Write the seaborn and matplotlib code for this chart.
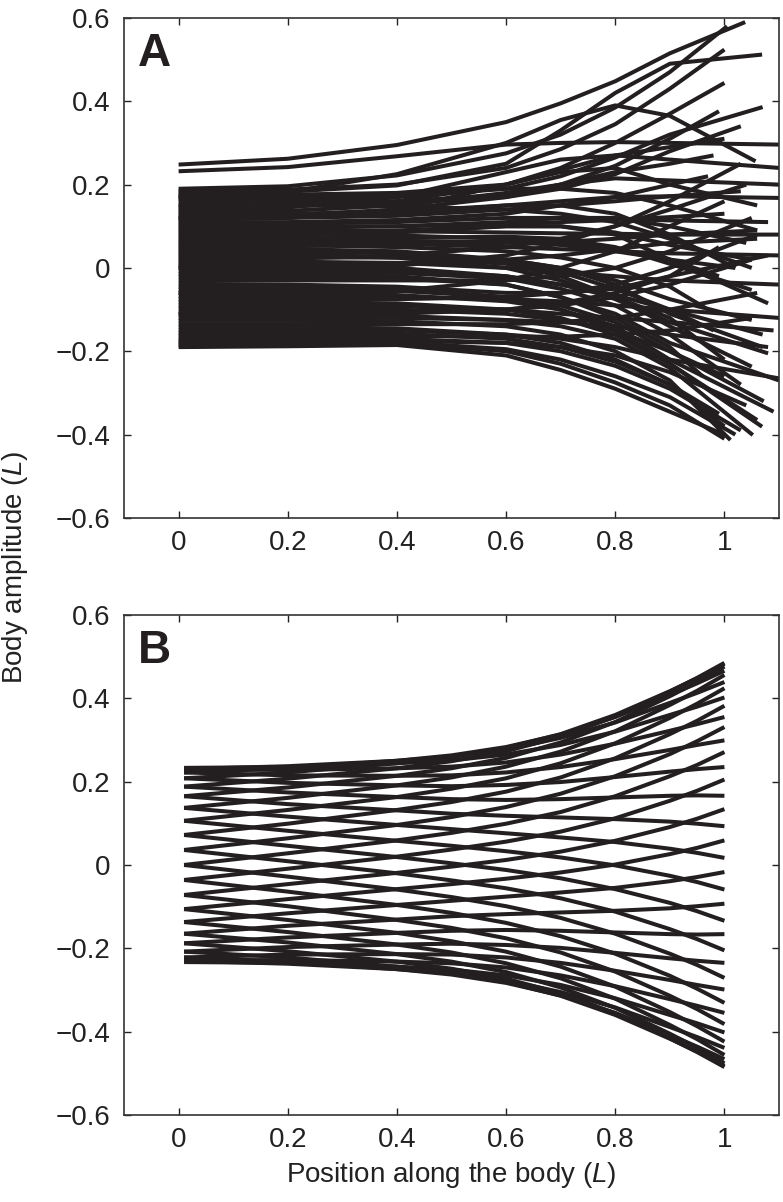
import matplotlib
matplotlib.use("Agg")
import matplotlib.pyplot as plt
import seaborn as sns
import pandas as pd

# ---- panel A: measured midlines, stations along the body + tail tip ----
pos_a = [0, 0.2, 0.4, 0.6, 0.7, 0.8, 0.9]
tail_pos_a = [1.038, 1.10, 1.005, 1.00, 1.069, 1.00, 1.057, 1.07, 0.99, 1.03,
              1.00, 1.10, 1.10, 1.10, 0.98, 1.03, 1.06, 0.97, 1.08, 1.00,
              1.04, 1.10, 1.05, 0.99, 1.08, 1.05, 1.02, 1.10, 0.97, 1.06,
              1.05, 1.07, 1.08, 1.05, 1.07, 1.04, 1.10, 1.06, 1.00, 0.98,
              1.03, 1.10, 0.96, 1.05, 1.08, 1.072, 1.09, 1.06, 1.10, 1.06,
              1.069, 1.09, 1.00, 1.05, 1.052, 1.08, 1.011, 1.06, 1.00, 1.10,
              0.99, 1.05, 1.03, 1.04, 1.02, 1.00, 1.00, 1.03, 1.00, 1.05,
              1.02, 0.99, 1.06]
amp_a = [
    [0.248, 0.262, 0.295, 0.350, 0.395, 0.448, 0.515, 0.590],
    [0.232, 0.242, 0.268, 0.296, 0.300, 0.302, 0.300, 0.296],
    [0.190, 0.196, 0.222, 0.275, 0.320, 0.385, 0.470, 0.580],
    [0.185, 0.188, 0.200, 0.240, 0.285, 0.345, 0.430, 0.524],
    [0.180, 0.183, 0.198, 0.250, 0.330, 0.420, 0.490, 0.512],
    [0.175, 0.176, 0.180, 0.200, 0.240, 0.300, 0.370, 0.444],
    [0.170, 0.182, 0.225, 0.300, 0.355, 0.390, 0.365, 0.256],
    [0.165, 0.165, 0.170, 0.190, 0.220, 0.265, 0.320, 0.386],
    [0.160, 0.158, 0.160, 0.175, 0.200, 0.245, 0.310, 0.376],
    [0.152, 0.150, 0.155, 0.170, 0.190, 0.225, 0.280, 0.340],
    [0.145, 0.148, 0.160, 0.200, 0.235, 0.270, 0.290, 0.310],
    [0.140, 0.145, 0.170, 0.230, 0.260, 0.270, 0.260, 0.240],
    [0.135, 0.137, 0.150, 0.180, 0.200, 0.215, 0.210, 0.200],
    [0.130, 0.130, 0.135, 0.150, 0.160, 0.170, 0.172, 0.168],
    [0.125, 0.127, 0.140, 0.170, 0.200, 0.230, 0.250, 0.270],
    [0.120, 0.120, 0.125, 0.140, 0.150, 0.160, 0.172, 0.184],
    [0.115, 0.120, 0.140, 0.200, 0.230, 0.240, 0.200, 0.150],
    [0.110, 0.110, 0.115, 0.130, 0.150, 0.170, 0.200, 0.220],
    [0.105, 0.106, 0.110, 0.120, 0.120, 0.118, 0.114, 0.110],
    [0.100, 0.100, 0.100, 0.105, 0.110, 0.115, 0.122, 0.130],
    [0.095, 0.096, 0.100, 0.110, 0.120, 0.120, 0.100, 0.060],
    [0.090, 0.090, 0.088, 0.085, 0.083, 0.082, 0.080, 0.080],
    [0.085, 0.086, 0.090, 0.100, 0.100, 0.085, 0.055, 0.020],
    [0.080, 0.080, 0.078, 0.070, 0.060, 0.045, 0.020, -0.020],
    [0.075, 0.077, 0.085, 0.100, 0.100, 0.080, 0.020, -0.085],
    [0.070, 0.070, 0.072, 0.075, 0.070, 0.050, 0.010, -0.053],
    [0.065, 0.065, 0.065, 0.062, 0.055, 0.040, 0.020, 0.000],
    [0.060, 0.060, 0.058, 0.050, 0.045, 0.040, 0.035, 0.030],
    [0.055, 0.055, 0.050, 0.040, 0.025, 0.000, -0.045, -0.100],
    [0.050, 0.052, 0.056, 0.060, 0.062, 0.070, 0.080, 0.090],
    [0.045, 0.045, 0.040, 0.020, 0.000, -0.030, -0.075, -0.125],
    [0.040, 0.040, 0.035, 0.015, -0.010, -0.050, -0.100, -0.160],
    [0.035, 0.034, 0.025, 0.000, -0.030, -0.075, -0.130, -0.205],
    [0.030, 0.030, 0.025, 0.010, -0.020, -0.070, -0.140, -0.237],
    [0.025, 0.025, 0.025, 0.020, 0.000, -0.040, -0.110, -0.190],
    [0.020, 0.022, 0.030, 0.050, 0.070, 0.100, 0.140, 0.200],
    [0.015, 0.015, 0.012, 0.000, -0.010, -0.020, -0.030, -0.040],
    [0.010, 0.010, 0.012, 0.020, 0.030, 0.045, 0.060, 0.070],
    [0.005, 0.005, 0.000, -0.020, -0.040, -0.070, -0.120, -0.220],
    [0.000, 0.000, -0.005, -0.020, -0.040, -0.065, -0.100, -0.150],
    [-0.008, -0.008, -0.012, -0.025, -0.050, -0.090, -0.160, -0.280],
    [-0.015, -0.015, -0.020, -0.040, -0.070, -0.110, -0.180, -0.270],
    [-0.022, -0.022, -0.025, -0.040, -0.070, -0.120, -0.190, -0.260],
    [-0.030, -0.030, -0.030, -0.030, -0.020, 0.000, 0.040, 0.120],
    [-0.038, -0.040, -0.045, -0.060, -0.060, -0.050, -0.020, 0.030],
    [-0.045, -0.045, -0.050, -0.070, -0.090, -0.130, -0.200, -0.320],
    [-0.052, -0.052, -0.055, -0.070, -0.100, -0.140, -0.220, -0.345],
    [-0.060, -0.060, -0.065, -0.080, -0.100, -0.150, -0.230, -0.365],
    [-0.068, -0.068, -0.070, -0.075, -0.080, -0.090, -0.100, -0.120],
    [-0.075, -0.075, -0.075, -0.070, -0.060, -0.040, 0.000, 0.080],
    [-0.082, -0.082, -0.085, -0.100, -0.120, -0.160, -0.230, -0.381],
    [-0.090, -0.090, -0.092, -0.100, -0.110, -0.120, -0.130, -0.150],
    [-0.097, -0.097, -0.100, -0.110, -0.125, -0.150, -0.200, -0.260],
    [-0.105, -0.105, -0.105, -0.100, -0.090, -0.070, -0.040, 0.020],
    [-0.112, -0.112, -0.115, -0.125, -0.140, -0.170, -0.240, -0.401],
    [-0.120, -0.120, -0.120, -0.125, -0.130, -0.140, -0.160, -0.190],
    [-0.127, -0.127, -0.128, -0.140, -0.160, -0.200, -0.270, -0.413],
    [-0.135, -0.135, -0.135, -0.135, -0.130, -0.120, -0.100, -0.060],
    [-0.142, -0.142, -0.145, -0.160, -0.180, -0.220, -0.280, -0.380],
    [-0.150, -0.150, -0.150, -0.160, -0.170, -0.190, -0.220, -0.265],
    [-0.157, -0.157, -0.158, -0.170, -0.190, -0.225, -0.280, -0.350],
    [-0.163, -0.163, -0.163, -0.165, -0.165, -0.160, -0.150, -0.120],
    [-0.170, -0.170, -0.170, -0.180, -0.200, -0.235, -0.290, -0.390],
    [-0.175, -0.175, -0.175, -0.180, -0.190, -0.210, -0.250, -0.330],
    [-0.180, -0.180, -0.178, -0.195, -0.220, -0.260, -0.310, -0.400],
    [-0.185, -0.185, -0.180, -0.200, -0.230, -0.275, -0.330, -0.410],
    [-0.190, -0.188, -0.185, -0.210, -0.245, -0.290, -0.345, -0.400],
    [0.000, 0.000, 0.005, 0.030, 0.060, 0.100, 0.160, 0.250],
    [-0.060, -0.060, -0.055, -0.030, 0.000, 0.040, 0.100, 0.160],
    [0.150, 0.150, 0.148, 0.140, 0.130, 0.110, 0.070, 0.000],
    [0.120, 0.122, 0.130, 0.150, 0.150, 0.130, 0.080, 0.000],
    [-0.110, -0.110, -0.110, -0.100, -0.085, -0.060, -0.020, 0.050],
    [0.170, 0.172, 0.178, 0.190, 0.190, 0.180, 0.150, 0.090],
]

# ---- panel B: model midlines ----
pos_b = [0.01, 0.2, 0.4, 0.5, 0.6, 0.7, 0.8, 0.9, 0.95, 1.0]
amp_b = [
    [0.233, 0.235, 0.244, 0.251, 0.265, 0.288, 0.320, 0.360, 0.380, 0.402],
    [0.230, 0.237, 0.250, 0.260, 0.277, 0.305, 0.342, 0.389, 0.413, 0.439],
    [0.222, 0.232, 0.250, 0.263, 0.283, 0.313, 0.355, 0.408, 0.436, 0.466],
    [0.208, 0.222, 0.244, 0.259, 0.281, 0.314, 0.360, 0.417, 0.448, 0.482],
    [0.188, 0.207, 0.232, 0.249, 0.273, 0.308, 0.356, 0.416, 0.449, 0.485],
    [0.165, 0.186, 0.214, 0.232, 0.257, 0.294, 0.343, 0.405, 0.439, 0.476],
    [0.137, 0.161, 0.191, 0.210, 0.236, 0.272, 0.321, 0.384, 0.418, 0.456],
    [0.106, 0.132, 0.163, 0.183, 0.208, 0.244, 0.292, 0.353, 0.387, 0.424],
    [0.072, 0.099, 0.132, 0.151, 0.176, 0.210, 0.256, 0.314, 0.346, 0.382],
    [0.036, 0.064, 0.096, 0.115, 0.139, 0.171, 0.213, 0.266, 0.297, 0.331],
    [0.000, 0.028, 0.059, 0.077, 0.099, 0.127, 0.165, 0.213, 0.240, 0.271],
    [-0.036, -0.009, 0.020, 0.037, 0.056, 0.080, 0.112, 0.154, 0.178, 0.205],
    [-0.072, -0.046, -0.019, -0.004, 0.012, 0.032, 0.058, 0.091, 0.111, 0.134],
    [-0.106, -0.082, -0.058, -0.046, -0.033, -0.018, 0.001, 0.026, 0.041, 0.059],
    [-0.137, -0.116, -0.096, -0.086, -0.076, -0.066, -0.055, -0.039, -0.029, -0.017],
    [-0.165, -0.146, -0.131, -0.123, -0.118, -0.114, -0.110, -0.104, -0.099, -0.093],
    [-0.188, -0.174, -0.163, -0.158, -0.156, -0.158, -0.162, -0.166, -0.167, -0.166],
    [-0.208, -0.197, -0.191, -0.189, -0.192, -0.199, -0.211, -0.224, -0.230, -0.235],
    [-0.222, -0.215, -0.214, -0.215, -0.222, -0.235, -0.254, -0.276, -0.288, -0.299],
    [-0.230, -0.228, -0.232, -0.236, -0.246, -0.265, -0.291, -0.322, -0.338, -0.355],
    [-0.233, -0.235, -0.244, -0.251, -0.265, -0.288, -0.320, -0.360, -0.380, -0.402],
    [-0.230, -0.237, -0.250, -0.260, -0.277, -0.305, -0.342, -0.389, -0.413, -0.439],
    [-0.222, -0.232, -0.250, -0.263, -0.283, -0.313, -0.355, -0.408, -0.436, -0.466],
    [-0.208, -0.222, -0.244, -0.259, -0.281, -0.314, -0.360, -0.417, -0.448, -0.482],
    [-0.188, -0.207, -0.232, -0.249, -0.273, -0.308, -0.356, -0.416, -0.449, -0.485],
    [-0.165, -0.186, -0.214, -0.232, -0.257, -0.294, -0.343, -0.405, -0.439, -0.476],
    [-0.137, -0.161, -0.191, -0.210, -0.236, -0.272, -0.321, -0.384, -0.418, -0.456],
    [-0.106, -0.132, -0.163, -0.183, -0.208, -0.244, -0.292, -0.353, -0.387, -0.424],
    [-0.072, -0.099, -0.132, -0.151, -0.176, -0.210, -0.256, -0.314, -0.346, -0.382],
    [-0.036, -0.064, -0.096, -0.115, -0.139, -0.171, -0.213, -0.266, -0.297, -0.331],
    [0.000, -0.028, -0.059, -0.077, -0.099, -0.127, -0.165, -0.213, -0.240, -0.271],
    [0.036, 0.009, -0.020, -0.037, -0.056, -0.080, -0.112, -0.154, -0.178, -0.205],
    [0.072, 0.046, 0.019, 0.004, -0.012, -0.032, -0.058, -0.091, -0.111, -0.134],
    [0.106, 0.082, 0.058, 0.046, 0.033, 0.018, -0.001, -0.026, -0.041, -0.059],
    [0.137, 0.116, 0.096, 0.086, 0.076, 0.066, 0.055, 0.039, 0.029, 0.017],
    [0.165, 0.146, 0.131, 0.123, 0.118, 0.114, 0.110, 0.104, 0.099, 0.093],
    [0.188, 0.174, 0.163, 0.158, 0.156, 0.158, 0.162, 0.166, 0.167, 0.166],
    [0.208, 0.197, 0.191, 0.189, 0.192, 0.199, 0.211, 0.224, 0.230, 0.235],
    [0.222, 0.215, 0.214, 0.215, 0.222, 0.235, 0.254, 0.276, 0.288, 0.299],
    [0.230, 0.228, 0.232, 0.236, 0.246, 0.265, 0.291, 0.322, 0.338, 0.355],
]

x_ticks = [0, 0.2, 0.4, 0.6, 0.8, 1]
x_tick_labels = ["0", "0.2", "0.4", "0.6", "0.8", "1"]
y_ticks = [-0.6, -0.4, -0.2, 0, 0.2, 0.4, 0.6]
y_tick_labels = ["\u22120.6", "\u22120.4", "\u22120.2", "0", "0.2", "0.4", "0.6"]

ink = "#231f20"

sns.set_style("ticks")
plt.rcParams["font.family"] = ["Liberation Sans", "DejaVu Sans"]
plt.rcParams["mathtext.fontset"] = "custom"
plt.rcParams["mathtext.rm"] = "Liberation Sans"
plt.rcParams["mathtext.it"] = "Liberation Sans:italic"


def long_table(positions, rows, tails=None):
    recs = []
    for i, row in enumerate(rows):
        xs = list(positions) + ([tails[i]] if tails is not None else [])
        for x, y in zip(xs, row):
            recs.append({"curve": i, "pos": x, "amp": y})
    return pd.DataFrame(recs)


df_a = long_table(pos_a, amp_a, tail_pos_a)
df_b = long_table(pos_b, amp_b)

fig = plt.figure(figsize=(7.83, 12.02), dpi=100)
ax_a = fig.add_axes([0.1584, 0.5691, 0.8365, 0.416])
ax_b = fig.add_axes([0.1584, 0.0724, 0.8365, 0.416])

for ax, df, lw, letter in [(ax_a, df_a, 2.9, "A"), (ax_b, df_b, 2.9, "B")]:
    sns.lineplot(data=df, x="pos", y="amp", units="curve", estimator=None,
                 sort=False, color=ink, linewidth=lw, legend=False, ax=ax,
                 solid_capstyle="butt", solid_joinstyle="round")
    ax.set_xlim(-0.1, 1.1)
    ax.set_ylim(-0.6, 0.6)
    ax.set_xticks(x_ticks, labels=x_tick_labels)
    ax.set_yticks(y_ticks, labels=y_tick_labels)
    ax.set_xlabel("")
    ax.set_ylabel("")
    ax.tick_params(direction="in", length=5, width=1, colors="#222222",
                   labelsize=20, top=True, right=True)
    ax.tick_params(axis="x", pad=9)
    ax.tick_params(axis="y", pad=10)
    for s in ax.spines.values():
        s.set_visible(True)
        s.set_linewidth(1.2)
        s.set_color("#333333")
    ax.text(0.021, 0.904, letter, transform=ax.transAxes, fontsize=33,
            fontweight="bold", color=ink, ha="left", va="baseline")

fig.text(0.019, 0.528, "Body amplitude ($\\mathit{L}$)", rotation=90,
         ha="center", va="center", fontsize=20, color="#222222")
fig.text(0.576, 0.0225, "Position along the body ($\\mathit{L}$)",
         ha="center", va="center", fontsize=20, color="#222222")

fig.savefig("out.png", dpi=100)
